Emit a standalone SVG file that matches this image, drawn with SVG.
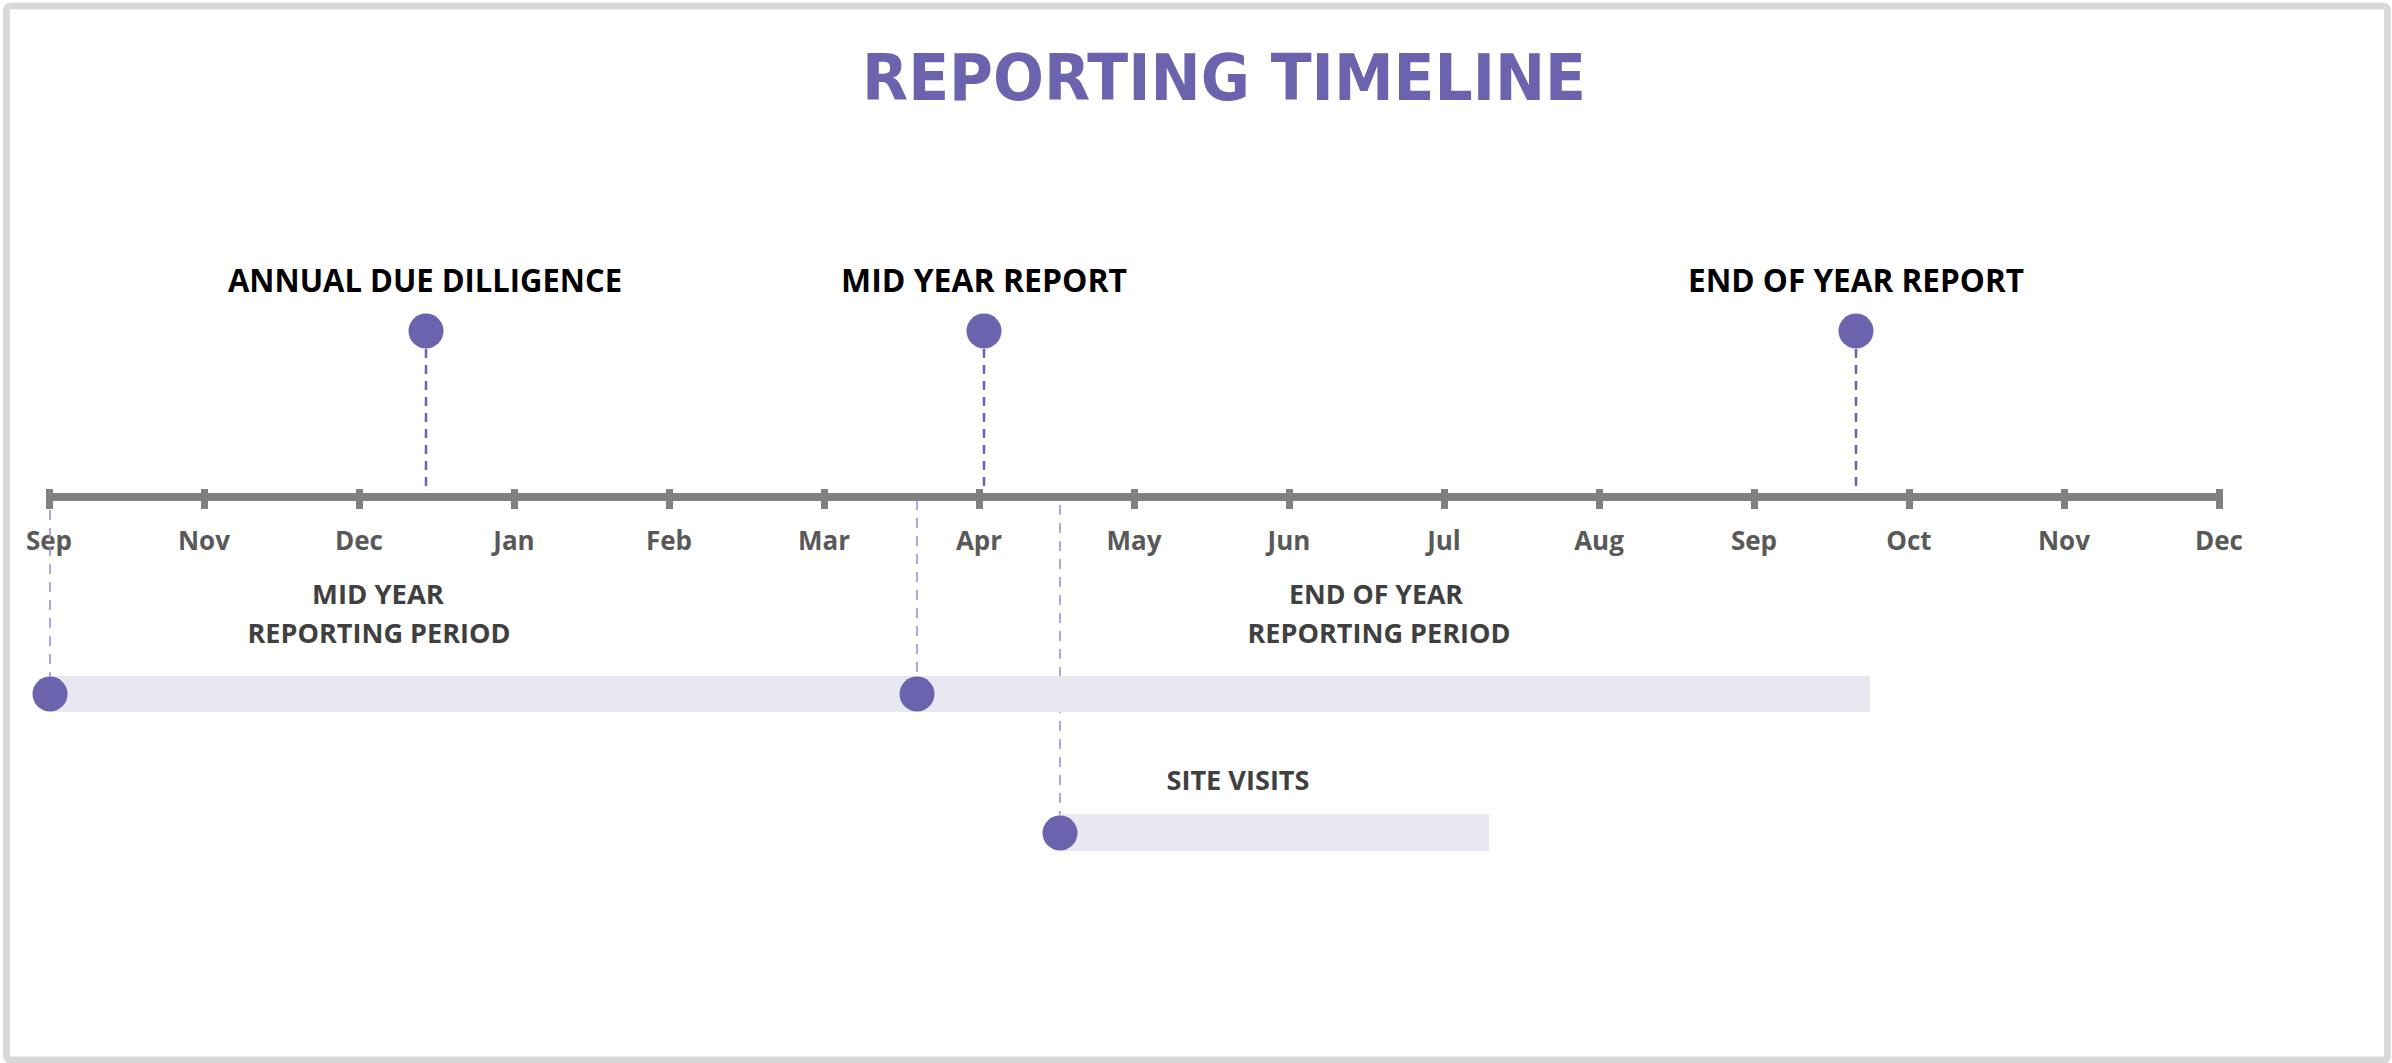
<svg xmlns="http://www.w3.org/2000/svg" width="2392" height="1063" viewBox="0 0 2392 1063">
<style>
.title{font-family:"DejaVu Sans","Liberation Sans",sans-serif;font-weight:bold;font-size:64px;fill:#6B63AD}
.lbl{font-family:"Open Sans","Liberation Sans",sans-serif;font-weight:bold;font-size:32px;fill:#000}
.per{font-family:"Open Sans","Liberation Sans",sans-serif;font-weight:bold;font-size:27px;fill:#404040;text-anchor:middle}
.mon{font-family:"Open Sans","Liberation Sans",sans-serif;font-weight:bold;font-size:26px;fill:#595959;text-anchor:middle}
.dot{fill:#6B63AD}
.bar{fill:#E8E8F3}
.dash1{stroke:#6B63AD;stroke-width:2.5;stroke-dasharray:9 7;fill:none}
.dash2{stroke:#9A92D2;stroke-width:1.6;stroke-dasharray:10 8;fill:none}
.tick{fill:#808080}
</style>
<rect x="0" y="0" width="2392" height="1063" fill="#fff"/>
<rect x="6.5" y="6" width="2381" height="1054" rx="4" fill="#fff" stroke="#D9D9D9" stroke-width="7"/>
<g id="title"><text class="title" x="862" y="100" textLength="724" lengthAdjust="spacingAndGlyphs">REPORTING TIMELINE</text></g>

<g id="axis">
<rect x="46" y="493" width="2177" height="8" class="tick"/>
<rect x="46" y="489" width="7" height="20" class="tick"/>
<rect x="201" y="489" width="7" height="20" class="tick"/>
<rect x="356" y="489" width="7" height="20" class="tick"/>
<rect x="511" y="489" width="7" height="20" class="tick"/>
<rect x="666" y="489" width="7" height="20" class="tick"/>
<rect x="821" y="489" width="7" height="20" class="tick"/>
<rect x="976" y="489" width="7" height="20" class="tick"/>
<rect x="1131" y="489" width="7" height="20" class="tick"/>
<rect x="1286" y="489" width="7" height="20" class="tick"/>
<rect x="1441" y="489" width="7" height="20" class="tick"/>
<rect x="1596" y="489" width="7" height="20" class="tick"/>
<rect x="1751" y="489" width="7" height="20" class="tick"/>
<rect x="1906" y="489" width="7" height="20" class="tick"/>
<rect x="2061" y="489" width="7" height="20" class="tick"/>
<rect x="2216" y="489" width="7" height="20" class="tick"/>
</g>
<g id="months">
<text class="mon" x="49" y="550">Sep</text>
<text class="mon" x="204" y="550">Nov</text>
<text class="mon" x="359" y="550">Dec</text>
<text class="mon" x="514" y="550">Jan</text>
<text class="mon" x="669" y="550">Feb</text>
<text class="mon" x="824" y="550">Mar</text>
<text class="mon" x="979" y="550">Apr</text>
<text class="mon" x="1134" y="550">May</text>
<text class="mon" x="1289" y="550">Jun</text>
<text class="mon" x="1444" y="550">Jul</text>
<text class="mon" x="1599" y="550">Aug</text>
<text class="mon" x="1754" y="550">Sep</text>
<text class="mon" x="1909" y="550">Oct</text>
<text class="mon" x="2064" y="550">Nov</text>
<text class="mon" x="2219" y="550">Dec</text>
</g>

<g id="connectors">
<line class="dash1" x1="426" y1="349" x2="426" y2="492"/>
<line class="dash1" x1="984" y1="349" x2="984" y2="492"/>
<line class="dash1" x1="1856" y1="349" x2="1856" y2="492"/>
<line class="dash2" x1="50" y1="510" x2="50" y2="677"/>
<line class="dash2" x1="917" y1="500" x2="917" y2="677"/>
<line class="dash2" x1="1060" y1="505" x2="1060" y2="816"/>
</g>

<g id="annual-due-diligence">
<text class="lbl" x="228" y="292" textLength="394" lengthAdjust="spacingAndGlyphs">ANNUAL DUE DILLIGENCE</text>
<circle class="dot" cx="426" cy="331" r="17.5"/>
</g>
<g id="mid-year-report">
<text class="lbl" x="841" y="292" textLength="286" lengthAdjust="spacingAndGlyphs">MID YEAR REPORT</text>
<circle class="dot" cx="984" cy="331" r="17.5"/>
</g>
<g id="end-of-year-report">
<text class="lbl" x="1688" y="292" textLength="336" lengthAdjust="spacingAndGlyphs">END OF YEAR REPORT</text>
<circle class="dot" cx="1856" cy="331" r="17.5"/>
</g>

<g id="mid-year-period">
<rect class="bar" x="50" y="676" width="867" height="36"/>
<text class="per" x="378" y="604" textLength="132" lengthAdjust="spacingAndGlyphs">MID YEAR</text>
<text class="per" x="379" y="643" textLength="263" lengthAdjust="spacingAndGlyphs">REPORTING PERIOD</text>
<circle class="dot" cx="50" cy="694" r="17.5"/>
</g>
<g id="end-of-year-period">
<rect class="bar" x="917" y="676" width="953" height="36"/>
<text class="per" x="1376" y="604" textLength="174" lengthAdjust="spacingAndGlyphs">END OF YEAR</text>
<text class="per" x="1379" y="643" textLength="263" lengthAdjust="spacingAndGlyphs">REPORTING PERIOD</text>
<circle class="dot" cx="917" cy="694" r="17.5"/>
</g>
<g id="site-visits">
<rect class="bar" x="1060" y="814" width="429" height="37"/>
<text class="per" x="1238" y="790" textLength="143" lengthAdjust="spacingAndGlyphs">SITE VISITS</text>
<circle class="dot" cx="1060" cy="833" r="17.5"/>
</g>
</svg>
